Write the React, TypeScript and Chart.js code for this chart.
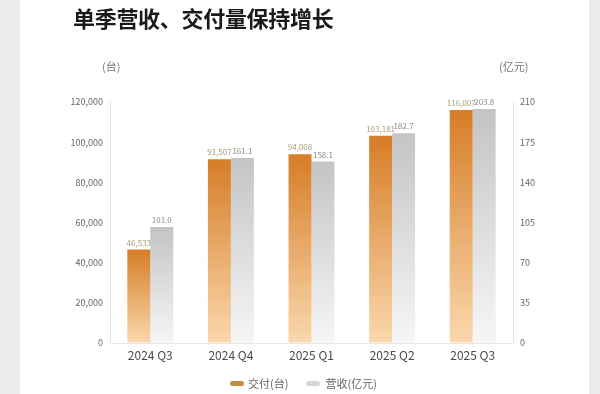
import React, { useEffect, useRef } from "react";
import { Chart, registerables } from "chart.js";

Chart.register(...registerables);

const categories = ["2024 Q3", "2024 Q4", "2025 Q1", "2025 Q2", "2025 Q3"];
const deliveries = [46533, 91507, 94008, 103181, 116007];
const revenue = [101.0, 161.1, 158.1, 182.7, 203.8];
const deliveryLabels = ["46,533", "91,507", "94,008", "103,181", "116,007"];
const revenueLabels = ["101.0", "161.1", "158.1", "182.7", "203.8"];
const leftTicks = [0, 20000, 40000, 60000, 80000, 100000, 120000];
const rightTicks = [0, 35, 70, 105, 140, 175, 210];

const FONT = "'Noto Sans CJK SC', 'Noto Sans', sans-serif";
const W = 600;
const H = 394;

function makeGradient(ctx: any, top: string, bottom: string) {
  const chart = ctx.chart;
  const area = chart.chartArea;
  if (!area) return top;
  const ds = chart.data.datasets[ctx.datasetIndex];
  const scale = chart.scales[ds.yAxisID];
  const v = ctx.raw;
  if (!scale || typeof v !== "number") return top;
  const y0 = scale.getPixelForValue(v);
  const g = chart.ctx.createLinearGradient(0, y0, 0, area.bottom);
  g.addColorStop(0, top);
  g.addColorStop(1, bottom);
  return g;
}

const labelPlugin = {
  id: "valueLabels",
  afterDatasetsDraw(chart: any) {
    const c = chart.ctx;
    c.save();
    c.font = `8px ${FONT}`;
    c.textAlign = "center";
    c.textBaseline = "bottom";
    chart.data.datasets.forEach((ds: any, di: number) => {
      const meta = chart.getDatasetMeta(di);
      const labels = di === 0 ? deliveryLabels : revenueLabels;
      c.fillStyle = di === 0 ? "#a8a070" : "#8c8c8c";
      meta.data.forEach((bar: any, i: number) => {
        c.fillText(labels[i], bar.x, bar.y - 3);
      });
    });
    c.restore();
  },
};

export default function App() {
  const ref = useRef<HTMLCanvasElement | null>(null);

  useEffect(() => {
    if (!ref.current) return;
    const chart = new Chart(ref.current, {
      type: "bar",
      data: {
        labels: categories,
        datasets: [
          {
            label: "交付(台)",
            data: deliveries,
            yAxisID: "y",
            backgroundColor: (ctx: any) => makeGradient(ctx, "#d67d27", "#fad8ad"),
            barPercentage: 1,
            categoryPercentage: 0.57,
          },
          {
            label: "营收(亿元)",
            data: revenue,
            yAxisID: "y1",
            backgroundColor: (ctx: any) => makeGradient(ctx, "#c4c4c4", "#f6f6f6"),
            barPercentage: 1,
            categoryPercentage: 0.57,
          },
        ],
      },
      options: {
        responsive: false,
        animation: false,
        layout: { padding: { left: 60, right: 47, top: 102, bottom: 30 } },
        plugins: {
          legend: { display: false },
          title: { display: false },
          tooltip: { enabled: false },
        },
        scales: {
          x: {
            grid: { display: false, drawTicks: false },
            border: { display: true, color: "#e6e6e6" },
            ticks: {
              color: "#4a4a4a",
              padding: 5,
              font: { family: FONT, size: 12 },
            },
            afterFit: (s: any) => {
              s.height = 21;
            },
          },
          y: {
            position: "left",
            min: 0,
            max: 120000,
            afterBuildTicks: (s: any) => {
              s.ticks = leftTicks.map((v) => ({ value: v }));
            },
            grid: {
              color: (c: any) => (c.tick && c.tick.value === 0 ? "rgba(0,0,0,0)" : "rgba(0,0,0,0.035)"),
              drawTicks: false,
            },
            border: { display: true, color: "#e6e6e6", dash: [3, 3] },
            ticks: {
              color: "#666",
              padding: 7,
              font: { family: FONT, size: 9 },
              callback: (v: any) => Number(v).toLocaleString("en-US"),
            },
            afterFit: (s: any) => {
              s.width = 50;
            },
          },
          y1: {
            position: "right",
            min: 0,
            max: 210,
            afterBuildTicks: (s: any) => {
              s.ticks = rightTicks.map((v) => ({ value: v }));
            },
            grid: { display: false, drawTicks: false },
            border: { display: true, color: "#e6e6e6" },
            ticks: {
              color: "#666",
              padding: 7,
              font: { family: FONT, size: 9 },
            },
            afterFit: (s: any) => {
              s.width = 40;
            },
          },
        },
      },
      plugins: [labelPlugin],
    } as any);
    return () => chart.destroy();
  }, []);

  return (
    <div
      style={{
        position: "fixed",
        left: 0,
        top: 0,
        width: W,
        height: H,
        background: "#ffffff",
        overflow: "hidden",
        fontFamily: FONT,
      }}
    >
      <div style={{ position: "absolute", left: 0, top: 0, width: 20, height: H, background: "#ececec" }} />
      <div style={{ position: "absolute", left: 589, top: 0, width: 11, height: H, background: "#ececec" }} />
      <canvas ref={ref} width={W} height={H} style={{ position: "absolute", left: 0, top: 0 }} />
      <div
        style={{
          position: "absolute",
          left: 73,
          top: 3,
          fontSize: 22,
          fontWeight: 700,
          color: "#1a1a1a",
          lineHeight: "28px",
          whiteSpace: "nowrap",
          letterSpacing: "-0.3px",
        }}
      >
        单季营收、交付量保持增长
      </div>
      <div style={{ position: "absolute", left: 102, top: 58, fontSize: 11, color: "#777", lineHeight: "16px" }}>(台)</div>
      <div style={{ position: "absolute", left: 499, top: 58, fontSize: 11, color: "#777", lineHeight: "16px" }}>(亿元)</div>
      <div
        style={{
          position: "absolute",
          left: 230,
          top: 375,
          display: "flex",
          alignItems: "center",
          fontSize: 11,
          color: "#666",
          lineHeight: "16px",
          whiteSpace: "nowrap",
        }}
      >
        <span style={{ display: "inline-block", width: 14, height: 5, borderRadius: 3, background: "#c98a3a", marginRight: 4 }} />
        <span>交付(台)</span>
        <span style={{ display: "inline-block", width: 14, height: 5, borderRadius: 3, background: "#d6d6d6", marginLeft: 18, marginRight: 5 }} />
        <span>营收(亿元)</span>
      </div>
    </div>
  );
}
